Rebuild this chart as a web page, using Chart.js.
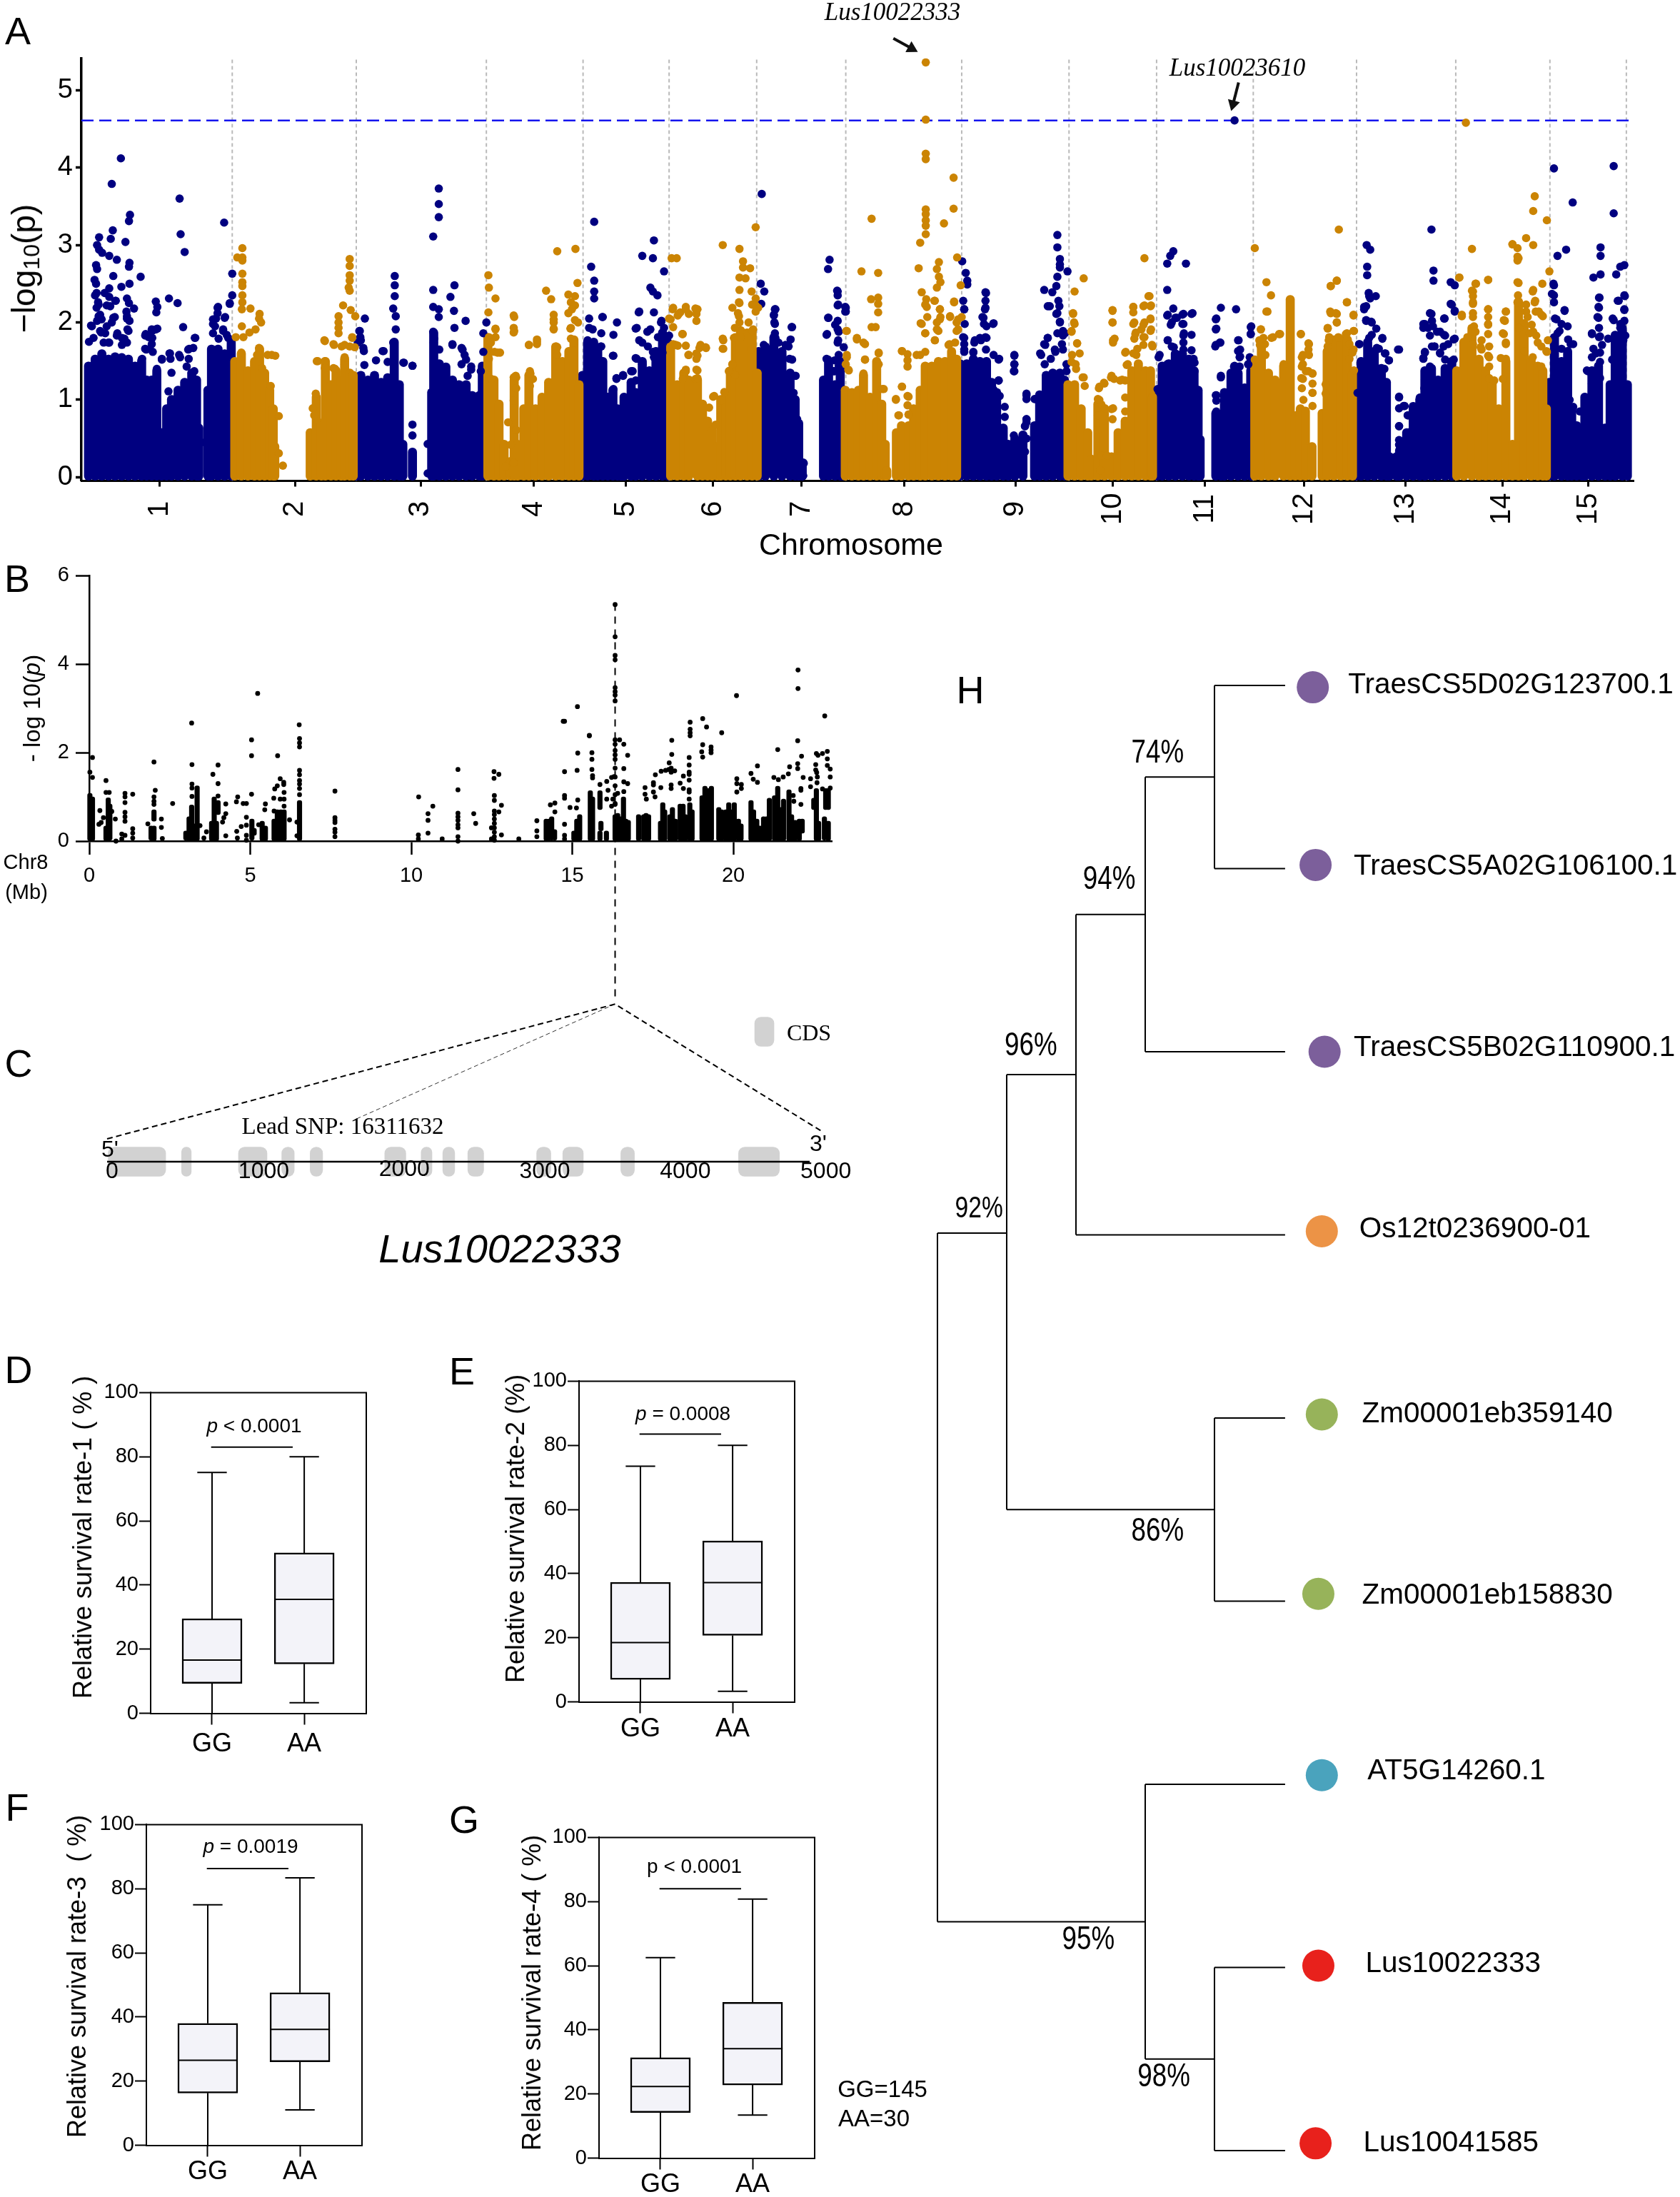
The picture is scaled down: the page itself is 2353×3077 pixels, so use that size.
<!DOCTYPE html>
<html>
<head>
<meta charset="utf-8">
<script src="https://cdn.jsdelivr.net/npm/chart.js@4/dist/chart.umd.min.js"></script>
<style>
  body { margin: 0; background: #fff; overflow: hidden; }
  #page { position: relative; width: 2353px; height: 3077px; font-family: "Liberation Sans", Arial, sans-serif; color: #000; }
  canvas { position: absolute; }
  .note { position: absolute; white-space: pre; line-height: 1; }
  .note sub { font-size: 70%; vertical-align: -0.2em; line-height: 0; }
</style>
</head>
<body>
<div id="page"></div>
<script>
// ---- panel A: genome-wide manhattan, x = cumulative Mb ----
const chromLabels = ["1","2","3","4","5","6","7","8","9","10","11","12","13","14","15"];
const chromCenters = [15.5,42.2,67,89.4,107.6,124.8,142.3,162.6,184.5,203.8,222,241.6,261.6,280.7,297.7];
const chromEnds = [29.8,54.3,80,99.1,116.1,133.4,151,173.9,195.1,212.4,231.5,251.9,271.5,290.1,305.2];
const threshold = 4.608;

// columns of merged points: [Mb, top]
const blueMass = [[1.41,1.49],[2.72,1.58],[4.04,1.65],[5.35,1.58],[6.66,1.61],[7.98,1.6],[9.29,1.58],[10.6,1.49],[11.9,1.55],[12.9,1.31],[13.9,1.31],[14.9,1.43],[15.85,.63],[16.84,.94],[17.8,1.06],[19.1,1.18],[20.4,1.28],[21.8,1.4],[22.75,1.31],[23.2,.69],
  [25,1.18],[25.7,1.71],[27,1.71],[28.3,1.65],[29.6,1.8],
  [54.3,1.31],[55.2,1.37],[56.6,1.31],[57.9,1.37],[59.2,1.28],[60.5,1.34],[61.8,1.8],[62.8,1.25],[63.5,.48],[65.4,.38],
  [69.2,1.15],[69.6,1.92],[70.7,1.52],[72,1.48],[73.3,1.31],[74.6,1.25],[76,1.25],[77.2,1.11],[78.6,1.11],[79.2,1.49],
  [99,1.37],[100,1.8],[101.2,1.8],[102,1.71],[103,1.55],[104,1.09],[105,1.18],[105.9,.94],[106.6,.32],[107.2,1.09],[108.6,1.28],[109.5,1.15],[110.8,1.55],[112.2,1.43],[113.5,1.68],[114.8,1.92],[115.8,1.8],
  [133.8,1.68],[135.1,1.74],[136.8,1.86],[138.4,1.68],[140,1.4],[141,1.06],[141.7,.75],[142.4,.23],
  [146.6,1.31],[147.6,1.55],[148.9,1.25],[149.9,1.55],[150.6,1.18],
  [173.6,1.52],[174.9,1.52],[176.2,1.58],[177.5,1.55],[178.8,1.55],[179.8,1.28],[180.8,1.15],[182.1,.69],[183.1,.48],[184.4,.55],[186,.6],
  [188.3,.72],[189.3,1.12],[190.6,1.37],[191.9,1.4],[193.3,1.4],[194.2,1.31],
  [212.5,1.15],[213.5,1.49],[214.8,1.52],[216.1,1.65],[217.5,1.65],[218.8,1.58],[219.8,1.43],[220.6,1.18],[221,.54],
  [224.1,.88],[225.1,.48],[225.8,1.15],[227.1,1.4],[228.5,1.4],[229.8,1.21],[231,1.43],
  [251.8,1.18],[252.8,1.55],[254.1,1.8],[255.4,1.68],[256.8,1.46],[257.8,1.28],[258.4,.32],[259.8,.32],[260.4,.4],[261.8,.63],[263.1,.97],[264.4,1.06],[265.4,1.43],[266.7,1.46],[268,1.31],[269.4,1.46],[270.7,1.55],
  [290,1.28],[291,1.86],[292.4,1.55],[293.6,1.68],[294.4,.94],[295.4,.72],[296.4,.69],[297,1.09],[298.4,1.43],[299.7,1.49],[301,.69],[302,1.25],[303,1.89],[304.4,1.98],[305.4,1.25]];
const orangeMass = [[30.3,1.55],[31.6,1.65],[32.9,1.43],[34.2,1.55],[35.2,1.71],[36.2,1.4],[37.2,1.18],[37.9,.94],[38.2,.45],
  [45.2,.63],[46.4,1.09],[47.4,.75],[48.2,1.55],[49.3,1.25],[50.3,1.43],[51.3,1.31],[52,1.58],[53,1.4],[53.7,1.37],
  [80.3,1.86],[81.5,1.31],[82.5,1],[83.5,.48],[84.8,.26],[85.5,1.31],[86.2,.48],[87.4,.94],[88.4,1.37],[89.7,.94],[91,1.09],[92.3,1.28],[93.7,1.74],[95,1.55],[96.3,1.68],[97.3,1.83],[98.3,1.25],
  [116.4,1.74],[117.7,1.25],[119,1.4],[120,1.31],[121.7,1.31],[122.7,1],[123.7,.78],[124.6,.66],[125.6,.45],[126.3,1.06],[127.3,1.12],[128.2,1.43],[129.2,1.86],[130.2,1.95],[131.5,1.92],[132.5,1.92],[133.5,1.4],
  [150.9,1.18],[152.2,1.15],[153.5,1.18],[154.5,1.37],[155.8,1.09],[157.1,1.55],[158.1,1],[158.8,.48],[159.1,.14],[161,.63],[162,.72],[163.4,.72],[164.4,.94],[165.7,1.18],[166.7,1.49],[168,1.49],[169.3,1.55],[170.6,1.55],[171.9,1.68],[172.9,1.58],
  [194.9,1.25],[196.2,1.25],[197.5,.94],[198.8,.63],[199.5,.29],[200.8,1],[202.1,.88],[203.5,.32],[204.8,.63],[206.2,.78],[207.5,1.43],[208.8,1.52],[210.2,1.43],[211.2,1.43],[211.6,1.09],
  [231.8,1.55],[233.1,1.8],[234.5,1.4],[235.8,1.31],[237.5,1.49],[238.8,2.35],[239.8,.85],[240.8,.94],[241.8,.91],[243.1,.45],
  [245.1,.88],[246.1,1.68],[247.4,1.83],[248.8,1.83],[250.1,1.83],[251.1,1.4],
  [271.7,1.43],[273.1,1.8],[274.7,1.98],[276.1,1.58],[277.4,1.43],[278.7,1.28],[280,.94],[281.4,1.55],[282.7,.48],[283.9,2.32],[285,2.04],[286.4,1.55],[287.7,1.49],[288.7,1.43],[289.4,.94]];

const blueDots = [[7.8,4.12],[6,3.79],[9.6,3.39],[9.4,3.31],[6.2,3.19],[3.5,3.1],[5.8,3.08],[8.7,3.04],[3.1,3],[3.5,2.94],[4.1,2.9],[5.5,2.86],[7,2.81],[9.5,2.77],[9.4,2.72],[2.9,2.74],[3.1,2.69],[6.3,2.6],[11.7,2.59],[2.6,2.55],[2.9,2.5],[9.5,2.5],[7.9,2.46],[5.5,2.44],[3,2.38],[4.6,2.38],[9,2.31],[5.5,2.33],[6.8,2.28],[9.4,2.25],[3.3,2.26],[3,2.19],[10.4,2.18],[5,2.22],[8.9,2.14],[3.7,2.1],[6.6,2.07],[9,2.05],[3.1,2.02],[6,2],[1.9,1.96],[9.5,2.02],[5,1.95],[7.1,1.86],[9.1,1.91],[3.9,1.87],[8.5,1.79],[1.5,1.75],[5.5,1.74],
  [19.4,3.6],[19.6,3.14],[20.4,2.91],[14.7,2.27],[17.3,2.31],[19,2.25],[15,2.2],[14.8,2.13],[14.7,1.91],[13.9,1.91],[20.1,1.94],[12.7,1.85],[13.3,1.81],[13.9,1.72],[12.8,1.65],[14.1,1.62],[22.5,1.8],[22.1,1.67],[21.3,1.66],[17.4,1.6],[19.3,1.58],[15.9,1.53],[17.6,1.53],[21.2,1.53],[12,1.53],
  [28.2,3.29],[29.8,2.63],[29.8,2.35],[29.3,2.25],[26.9,2.19],[26.9,2.12],[28.4,2.07],[26.6,2.05],[26,1.98],[28,1.91],[28.7,1.84],[29.5,1.77],[27.1,1.79],
  [61.9,2.6],[61.9,2.48],[61.9,2.34],[61.6,2.18],[62.1,2.08],[62.1,1.91],[56,2.05],[54.9,1.89],[55.1,1.81],[54.6,1.74],[55.7,1.67],[61.6,1.74],[59.7,1.63],[63.6,1.48],[65.4,1.44],[65.4,.68],[65.4,.54],[68.4,.43],[68.4,.05],
  [70.6,3.73],[70.6,3.53],[70.6,3.36],[69.5,3.11],[69.5,2.42],[73.7,2.48],[72.9,2.33],[69.5,2.2],[70.6,2.17],[73.6,2.15],[70.6,2.07],[75.9,2.02],[73.7,1.93],[69.5,1.88],[80,2],[79.4,1.86],[69.7,1.79],[70,1.65],[73.3,1.72],[75.1,1.67],[75.7,1.58],[75.1,1.46],[77,1.39],[78.9,1.37],[79.4,1.62],[24.4,.45],
  [101.3,3.3],[100.7,2.72],[101.3,2.54],[101.3,2.4],[101.3,2.31],[100.3,2.05],[102.9,2.07],[100.3,1.93],[101,1.91],[102.7,1.86],[105.8,2],[105.1,1.84],[100,1.77],[101,1.65],[102.7,1.69],[105,1.57],[102.3,1.48],[105.7,1.27],[107,1.32],[108.6,1.37],
  [113.1,3.06],[110.8,2.86],[112.9,2.83],[115.1,2.66],[112.4,2.45],[112.9,2.4],[113.8,2.35],[110.1,2.13],[113.1,2.13],[109.7,1.93],[114.6,2.02],[112.4,1.91],[115.1,1.93],[113.9,1.81],[110.2,1.77],[111.9,1.69],[109.7,1.53],[110.8,1.46],[112.9,1.62],
  [134.4,3.66],[134.2,2.5],[134.9,2.4],[134.3,2.24],[137,2.17],[136.8,2.1],[136.9,2],[140.3,1.94],[137,1.86],[139.7,1.69],[137.7,1.74],[139.9,1.53],[138.5,1.53],[142.6,.19],[142.6,.02],
  [147.8,2.81],[147.5,2.69],[149.4,2.4],[149.4,2.35],[149.4,2.22],[151,2.19],[151,2.14],[147.6,2.06],[149.4,2.02],[147.2,1.84],[149.4,1.91],[149.4,1.74],[147.2,1.53],[148.8,1.51],[148.8,1.37],[149.6,1.44],
  [174,2.79],[174.7,2.64],[175,2.54],[175,2.49],[174.2,2.28],[174.4,2.17],[178.6,2.39],[178.6,2.28],[178.6,2.19],[178,2.07],[178.3,1.98],[180.2,1.99],[174.2,1.81],[174.4,1.72],[174.4,1.62],[176.4,1.74],[178.6,1.81],[177.7,1.77],[176.2,1.62],[180.2,1.58],[181.3,1.53],[184.3,1.58],[184.3,1.46],[184.2,1.37],[186.7,1.08],[186.7,1.01],[188.6,1.01],[181.2,1.25],[180.2,1.13],[186.7,.71],[186.7,.75],[186.4,.66],[184.2,.54],[184.2,.42],[186.7,.5],[184.2,.28],[184.2,.02],[186.4,.33],[185.9,.09],
  [192.8,3.13],[192.8,2.97],[193.3,2.82],[193.3,2.75],[193.3,2.71],[194.8,2.66],[192.8,2.59],[192.6,2.47],[190.2,2.42],[191.8,2.39],[193,2.28],[191.3,2.21],[193.2,2.21],[192.8,2.12],[193.3,2],[192.8,1.86],[190.9,1.8],[194.3,1.86],[190.2,1.72],[193.7,1.72],[189.4,1.6],[192.4,1.62],[191.5,1.53],
  [215.7,2.92],[215.1,2.86],[214.5,2.76],[218.2,2.76],[214.5,2.42],[215.7,2.18],[214.6,2.1],[219.5,2.12],[217.5,2.1],[216.4,2.06],[215.4,2],[217.5,1.98],[217.8,1.86],[214.6,1.77],[217.7,1.74],[213,1.58],[215.4,1.69],[219.7,1.53],[219.7,1.37],
  [225.1,2.19],[228.1,2.17],[224.2,2.05],[224.2,1.92],[224.9,1.74],[224,1.69],[228.6,1.77],[231,1.94],[231,1.85],[228.9,1.65],[228.9,1.56],[230.5,1.46],[227.8,1.44],[225.1,1.29],[224.2,1.06],[224.2,.99],[224.2,.85],[224.2,.66],[227.8,4.61],
  [253.9,3],[254.6,2.94],[254,2.72],[254,2.61],[254.3,2.38],[255.7,2.34],[254.6,2.31],[253.8,2.21],[253.4,2.17],[253.8,2.02],[254.9,2],[254.9,1.84],[257,1.8],[252.5,1.72],[255.9,1.67],[260.3,1.65],[257.5,1.6],[258.3,1.51],[260.3,1.04],[260.3,.89],[261.4,.92],[262.1,.8],[262.1,.56],[262.1,.47],[260.3,.66],[260.3,.42],
  [266.7,3.2],[267.1,2.67],[267.1,2.54],[270.5,2.52],[271.3,2.48],[270.5,2.24],[271.3,2.14],[266.4,2.12],[269.2,2.05],[265.1,1.98],[266.8,2.02],[266,1.93],[265.1,1.93],[267.8,1.88],[269.2,1.84],[266.8,1.69],[270,1.72],[271.3,1.79],[267.3,1.69],[265.4,1.62],[268.4,1.6],[265.1,1.53],
  [290.9,3.99],[302.7,4.02],[294.6,3.55],[302.7,3.41],[293.3,2.94],[300.1,2.97],[291.6,2.86],[300.1,2.86],[304.8,2.74],[304,2.72],[300.1,2.62],[303.2,2.62],[298.7,2.58],[290.8,2.5],[290.9,2.35],[304.8,2.35],[303.5,2.28],[299.8,2.32],[299.8,2.19],[304.8,2.17],[293,2.16],[299.5,2.07],[302.5,2.05],[304.8,2.02],[291.1,2.05],[292.4,1.98],[291.6,1.86],[299.8,1.93],[298.4,1.86],[299.8,1.81],[304,1.93],[294.2,1.72],[301.6,1.79],[304.6,1.77],[299.2,1.6],[297.6,1.37],[296,.85]];
// dense band just above the solid mass
const blueFringe = [[2.07,1.95],[2.4,1.8],[3.4,2.08],[4,2.04],[3.7,1.89],[4.7,1.86],[5.35,1.74],[4.4,1.74],[6.3,2.06],[7,1.83],[8,1.8],[9,2.08],[9.3,1.89],[9,1.74],[8,1.71],[2.7,2.35],[3.4,2.23],[5.7,2.21],[6.7,2.28],[12.6,1.83],[14,1.8],[13.5,1.66],[12.6,1.66],[15,1.92],[14,1.89],[11.9,1.52],[14.9,1.4],[15.9,1.52],[17.5,1.6],[17.8,1.35],[19.5,1.55],[21.1,1.65],[22.4,1.8],[20.8,1.43],[22.3,1.37],[17.2,1.11],[26,2.04],[26.4,1.95],[26,1.86],[27,2.2],[28.3,2.06],[28,1.89],[29,1.8],[29.6,1.68],[29.3,2.24],
  [55,1.89],[55.2,1.77],[55.8,1.63],[55.9,1.45],[58.2,1.51],[59.5,1.63],[60.5,1.49],[61.8,1.68],[63.7,1.48],[65.4,1.44],[69.6,1.74],[70.7,1.65],[73.3,1.71],[75.3,1.65],[76,1.52],[77,1.43],[76.3,1.31],
  [110.2,2.14],[111.8,1.88],[109.5,1.92],[110.8,1.74],[109.5,1.54],[110.8,1.46],[108.9,1.37],[109.5,1.25],[113.1,1.55],[114.5,2],[116.1,1.83],[114.8,1.61],[103,2.07],[102.6,1.69],[105.1,1.57],[105.7,1.28],[107,1.31],[105.1,1.14],[102.3,1.49],[102.6,1.37],
  [137.1,2.17],[136.8,2.09],[137,1.98],[140.4,1.94],[140.1,1.78],[137.1,1.8],[134.8,1.71],[139.1,1.71],[140.4,1.52],[141.1,1.31],[140.7,1.09],[141.4,.75],[141.4,.58],[142.7,.18],[149.3,2.41],[149.5,2.23],[150.9,2.2],[150.9,2.14],[147.5,2.06],[148.9,1.97],[149.6,1.88],[147.3,1.85],[149.5,1.77],[150.6,1.68],[149.6,1.58],[147.5,1.52],[148.6,1.37],[149.9,1.28],
  [174.4,2.17],[174.5,1.98],[174.4,1.8],[174.4,1.65],[178.7,2.38],[178.5,2.17],[178.2,2.06],[180.1,1.98],[178.8,1.95],[177.5,1.8],[178.8,1.8],[176.5,1.77],[178.7,1.65],[176.2,1.61],[181.2,1.52],[181.2,1.25],[181.4,1.05],[182.4,.91],[182.4,.78],[184.3,1.57],[184.3,1.46],[184.3,1.37],[186.7,1.06],[186.7,.75],[186.4,.66],[190.9,2.21],[192.6,2.11],[193.3,2.01],[193.9,1.89],[193.9,1.83],[190.9,1.8],[190.4,1.71],[192.3,1.65],[189.6,1.58],[193.9,1.65],[190.3,1.46],[194.6,1.46],[194.6,1.37],[188.3,1.01],
  [214.5,2.09],[216.1,2.06],[217.7,2.11],[219.3,2.11],[217.7,1.98],[215.2,1.97],[217.7,1.83],[219.3,1.84],[214.6,1.77],[215.8,1.68],[217.7,1.65],[219.3,1.64],[212.8,1.55],[214.5,1.46],[219.9,1.48],[219.9,1.37],[212.6,1.14],[220.6,1.08],[224.1,2.04],[224.1,1.91],[224.1,1.71],[225,1.74],[225.1,1.31],[224.1,1.06],[224.1,.81],[228.5,1.77],[228.5,1.63],[228.8,1.55],[231.1,1.95],[231,1.85],[230.8,1.55],[230.5,1.46],[227.7,1.43],[228.8,1.43],
  [254.4,2.34],[253.4,2.2],[253.8,2.03],[254.8,2.01],[255.8,1.92],[254.4,1.8],[257,1.79],[252.4,1.72],[256.3,1.66],[257.6,1.6],[258.3,1.51],[257.4,1.4],[253.1,1.31],[252.1,1.09],[260.1,1.65],[260.3,1.03],[261.2,.92],[262,.8],[260.3,.66],[262.1,.58],[260.3,.48],[266.7,2.11],[265.4,1.98],[267,1.95],[266.4,1.83],[268.4,1.88],[269.4,1.83],[269.3,2.05],[270.7,2.23],[271.3,2.15],[271.1,1.78],[267.3,1.69],[269.1,1.69],[265.4,1.61],[268.4,1.61],[265.1,1.54],[269.4,1.52],[271.1,1.52],[266.4,1.43],[265.4,1.26],[265.3,1.15],[264.4,1.03],
  [290.9,2.48],[290.5,2.37],[290.9,2.26],[293,2.15],[291.4,2.04],[293.6,1.95],[292,1.89],[293.7,1.78],[294.7,1.72],[292.4,1.66],[293.6,1.58],[294,1],[294.7,.91],[299.9,2.32],[299.7,2.2],[299.7,2.06],[298.4,1.85],[300,1.82],[300.4,1.71],[298.7,1.66],[298.4,1.55],[300,1.61],[300,1.49],[297.4,1.38],[298.4,1.31],[298.4,1.21],[300,1.28],[304.9,2.34],[303.7,2.28],[304.8,2.16],[302.7,2.03],[304,1.98],[305,1.83],[302.4,1.52],[303,1.31]];

const orangeDots = [[31.8,2.96],[30.8,2.84],[31.8,2.84],[31.8,2.8],[31.8,2.63],[31.8,2.52],[31.8,2.47],[31.8,2.35],[31.8,2.26],[31.7,2.17],[33.4,2.18],[35.2,2.11],[35.1,2.05],[35.5,2],[34.4,1.91],[33.2,1.87],[31.7,1.95],[32,1.81],[30.5,1.81],[35.1,1.67],[34.7,1.58],[37.6,1.58],[36.8,1.58],[35.7,1.41],[37.4,1.18],[39,.79],[39,.31],[39.8,.15],
  [53,2.82],[53,2.73],[53,2.61],[53,2.54],[52.8,2.45],[53,2.41],[51.7,2.22],[53.2,2.16],[54.1,2.08],[50.8,2.08],[50.8,2],[50.8,1.93],[50.8,1.86],[53.5,1.81],[48.1,1.76],[49.8,1.72],[51.4,1.69],[53,1.69],[46.5,1.5],[48.1,1.5],[48.1,1.41],[49.8,1.41],[52,1.46],[46.3,1.08],[45.7,.89],[46.5,.75],[46,.8],
  [80.4,2.61],[80.5,2.45],[81.8,2.31],[80.4,2.13],[85.4,2.09],[85.4,1.93],[85.4,1.87],[81.8,1.92],[81.8,1.81],[80.5,1.81],[80.3,1.72],[81.6,1.62],[82.7,1.61],[80.5,1.53],[88.4,1.71],[90,1.78],[90,1.72],[94,2.92],[97.6,2.95],[98,2.51],[91.8,2.41],[96.2,2.36],[97.5,2.34],[92.8,2.3],[96.7,2.26],[97.5,2.22],[96.9,2.17],[93.3,2.1],[96.2,2.12],[93.3,2],[93.3,1.91],[97.5,2.03],[98.1,2],[96.7,1.93],[96.7,1.79],[93.8,1.69],[97.3,1.72],[94,1.58],[85.4,1.29],[85.9,1.29],[88.6,1.37],[89.2,1.27],[85.9,1.15],[85.4,.99],[88.6,1.18],[81,1.27],[84.3,.71],[85.9,.61],[84.8,.42],[83.8,.14],[85.4,.19],
  [116.6,2.83],[117.6,2.83],[116.9,2.19],[119.4,2.2],[121.3,2.18],[118.3,2.13],[120,2.11],[121.5,2.11],[116.1,2.05],[117.8,2.09],[121.5,2.02],[116.9,1.94],[118.8,1.85],[116.9,1.72],[117.8,1.7],[119.4,1.7],[122.1,1.67],[123.4,1.67],[119.9,1.58],[121.5,1.6],[121.5,1.53],[121.5,1.39],[119.4,1.39],[118.8,1.27],[121.3,1.27],[124.8,1.04],[124,.9],[125.3,.68],
  [126.7,3],[130,2.95],[133.2,3.23],[130.7,2.79],[130.7,2.71],[132.1,2.7],[130,2.58],[131.2,2.57],[130,2.42],[132.4,2.4],[133.2,2.31],[130,2.25],[128.6,2.19],[133.2,2.22],[129.7,2.12],[133.7,2.19],[130,2],[131.8,2],[132.7,1.91],[129.1,1.93],[130.2,1.81],[126.7,1.79],[126.7,1.66],[132.3,1.65],[128.6,1.46],[128,1.37],[129.1,1.32],[127,1.1],[126.4,.99],
  [166.8,5.36],[166.8,4.62],[166.8,4.18],[166.8,4.11],[172.3,3.87],[172.3,3.47],[166.8,3.46],[166.8,3.4],[166.8,3.32],[166.8,3.25],[170.4,3.28],[156.1,3.34],[166.8,3.14],[165.7,3.03],[165.4,2.7],[154.1,2.66],[157.4,2.64],[173,2.84],[169.4,2.78],[169,2.69],[169.4,2.59],[169.7,2.52],[169,2.45],[173.7,2.48],[166,2.39],[172.4,2.27],[168.5,2.28],[166.9,2.3],[156,2.3],[157.4,2.32],[157.4,2.24],[157.4,2.13],[167,2.2],[169.6,2.17],[169.7,2.07],[171.6,2.07],[167.1,2.07],[165.8,1.99],[169,2],[173.9,2.07],[172.9,2],[173.2,1.91],[156.1,1.94],[156.9,1.94],[151.1,1.89],[153.2,1.78],[154.5,1.74],[166.7,1.86],[169,1.91],[151.2,1.58],[157.5,1.61],[162.1,1.63],[163.2,1.59],[163.2,1.51],[154.8,1.52],[151,1.46],[151.5,1.39],[157.5,1.46],[162.1,1.17],[160.9,1.01],[163.4,1.04],[163.2,.93],[161.5,.8],[163.4,.81],[158.2,1.14],[165,1.58],[166.7,1.62],[168.6,1.77],[171.5,1.72],
  [198,2.57],[196.2,2.4],[195.9,2.12],[196.1,2],[195.6,1.88],[196.7,1.73],[195.7,1.58],[196.4,1.46],[197.8,1.29],[202,1.22],[201,1.15],[200.8,1.01],[201.5,.94],[204,1.27],[205.6,1.26],[202.2,.89],[203.5,.88],[200.8,.61],[200.8,.8],[201.5,.28],[202.6,.28],[201.3,.09],
  [203.7,2.16],[203.7,2],[204.1,1.79],[203.8,1.74],[210,2.83],[211,2.34],[207.8,2.2],[210,2.22],[211.3,2.22],[207.8,2.13],[208,2],[210,2],[211.2,2.05],[208.3,1.87],[209.4,1.91],[211.3,1.91],[208,1.79],[210,1.81],[211.6,1.69],[208.6,1.66],[206.3,1.62],[208.4,1.58],[206.7,1.46],[206.2,1.25],
  [231.8,2.96],[234.1,2.52],[235,2.35],[234.3,2.14],[233,1.91],[235.4,1.81],[236.8,1.85],[232.7,1.77],[233.8,1.72],[240.9,1.85],[242.4,1.73],[242.4,1.65],[241.3,1.58],[241.3,1.46],[242.4,1.37],[241.3,1.27],[243.2,1.34],[243.2,1.09],
  [248.4,3.2],[248,2.54],[246.8,2.47],[250,2.26],[246.7,2.14],[247.8,2.12],[251.3,2.1],[248,2],[246.2,1.93],[251.3,1.89],[250,1.86],[246.5,1.81],[248.3,1.81],[250.5,1.72],[246.2,1.69],[251.3,1.65],[250.5,1.53],
  [273.5,4.58],[274.7,2.95],[272.2,2.58],[277.9,2.55],[275.4,2.5],[274.9,2.4],[274.9,2.26],[277.9,2.17],[277.9,2.07],[277.9,1.98],[272.7,2.1],[274.9,2.12],[275.1,1.95],[275.4,1.88],[281.4,2.14],[281.2,2.02],[280.8,1.86],[281.4,1.74],[273.8,1.81],[276.6,1.77],[274.9,1.72],[276.6,1.65],[278.1,1.55],[281.4,1.53],[280.8,1.27],
  [287.1,3.63],[286.8,3.44],[289.5,3.32],[285.4,3.09],[282.7,3.01],[283.7,2.96],[286.8,3],[283.7,2.85],[283.7,2.8],[290,2.66],[283.7,2.52],[288.6,2.5],[286.8,2.42],[283.8,2.35],[287.1,2.26],[283.7,2.26],[287.3,2.14],[288.4,2.1],[285.7,2.07],[286.8,1.88],[284,1.93],[289.5,1.62],[288.4,1.69]];
const orangeFringe = [[31.6,1.61],[35.2,1.66],[35.2,1.58],[38.3,1.57],[48,1.77],[46.7,1.5],[49.9,1.71],[52,1.71],[52,1.55],[53.5,1.8],[54,1.68],[50.1,1.4],
  [81.8,1.91],[80.9,1.74],[82.2,1.61],[85.5,1.89],[85.5,2.07],[88.4,1.71],[90,1.75],[88.7,1.34],[85.8,1.31],[93.3,2.04],[93.3,1.92],[96.6,1.92],[97.3,1.74],[94,1.68],
  [116.8,2.17],[119.4,2.17],[121.7,2.17],[118,2.11],[116.4,2.04],[118.7,1.85],[117.4,1.71],[122.3,1.71],[123.3,1.68],[120,1.58],[121.7,1.57],[121.7,1.38],[125,1.05],[126.8,1.77],[126.8,1.66],[121.7,1.28],[119.4,1.37],[128.9,1.8],[129.9,2.26],[132.5,2.23],[133.2,2.14],[129.9,2.08],[132.5,1.89],[127.9,1.37],[128.6,1.46],
  [151.2,1.89],[153.2,1.8],[154.8,1.72],[157.5,1.6],[154.8,1.52],[151.2,1.55],[151.6,1.38],[154.5,1.34],[157.1,1.43],[158.5,1.14],[162.1,1.63],[163.2,1.43],[162.1,1.17],[160.9,1],[163.2,1.05],[161.4,.8],[163.4,.81],[166.7,2.23],[168.6,2.28],[169.6,2.17],[169.6,2.04],[166,1.98],[166.7,1.86],[169.3,1.89],[172.4,2.26],[171.6,2.08],[173.2,2.04],[172.9,1.89],[168.6,1.77],[165.7,1.58],[171.3,1.71],[172.6,1.74],
  [195.9,2.11],[196.2,1.98],[195.6,1.89],[196.7,1.73],[197.2,1.6],[195.6,1.49],[196.5,1.4],[198,1.29],[198.2,1.18],[201.1,1.17],[202.1,1.21],[203.4,1.29],[201.1,1],[203.7,2.15],[203.7,2],[203.8,1.77],[207.8,2.2],[207.8,1.98],[209.8,2.21],[211.2,2.21],[210.8,2.34],[211.2,2.04],[211.2,1.89],[209.8,1.97],[208.2,1.85],[209.8,1.81],[206.2,1.61],[207.8,1.6],[209.8,1.71],[211.5,1.71],[206.5,1.45],[203.5,1.31],[205.2,1.25],[206.2,1.03],[206.2,.85],[203.8,.89],[203.7,.75],
  [234.1,2.14],[233,1.91],[235.1,1.8],[236.6,1.85],[233.5,1.8],[232.8,1.71],[233.9,1.58],[231.8,1.52],[237.5,1.46],[240.9,1.85],[242.5,1.72],[242.5,1.58],[241.1,1.55],[241.1,1.43],[241.9,1.37],[243.2,1.34],[241,1.28],[243.2,1.21],[241.1,1.15],[243.2,1.09],[241.4,1],[243.2,.92],
  [246.8,2.47],[248,2.54],[250,2.26],[251.3,2.09],[246.8,2.12],[248,2.11],[248,2],[246.2,1.92],[251.4,1.89],[249.8,1.85],[248.4,1.8],[246.4,1.77],[251.1,1.61],[251.4,1.38],[245.8,1.2],[245.8,1.08],
  [272.2,2.58],[275.5,2.5],[277.9,2.55],[274.7,2.41],[274.9,2.34],[274.9,2.24],[272.7,2.08],[274.9,2.07],[277.9,2.17],[277.9,1.97],[281.4,2.14],[281,2.03],[281,1.85],[281.4,1.72],[277.9,1.85],[278.1,1.69],[276.4,1.68],[277.9,1.57],[278.1,1.43],[280.4,1.54],[278.1,1.28],[279.1,1.25],
  [282.7,3.01],[283.9,2.83],[283.9,2.51],[286.7,2.4],[287.2,2.28],[285.4,2.23],[287.9,2.14],[288.7,2.08],[285.4,2.14],[286.5,1.97],[286.1,1.86],[287.4,1.83],[287.7,1.74],[289.7,1.77],[289.4,1.63],[285.1,1.63],[286.7,1.55],[288.4,1.43]];

// ---- panel B: chromosome 8, x = Mb ----
const chr8Ticks = [0,5,10,15,20];
const chr8Peak = 16.33;
// dense columns of merged points: [Mb, low, high]
const chr8Runs = [[.02,0,1.08],[.1,0,1],[.52,0,.34],[.59,0,.98],[.64,.02,.84],[1.92,.02,.34],[2.01,0,.34],[2.01,.45,.71],[3,.02,.23],[3.1,0,.55],[3.18,0,.82],[3.27,0,.39],[3.35,0,1.25],[3.8,0,.45],[3.88,0,1],[3.95,0,.45],[4,.6,.92],[5.05,.02,.5],[5.12,.13,.29],[5.37,0,.45],[5.47,0,.34],[5.74,0,.5],[5.84,0,.71],[5.95,0,.71],[6.05,0,.71],[6.53,0,.92],
  [14.19,0,.5],[14.28,.02,.5],[14.36,.02,.55],[14.45,.02,.26],[15.05,0,.23],[15.14,0,.5],[15.23,0,.6],[15.56,0,1.14],[15.63,0,1],[15.86,.71,1.14],[15.86,0,.23],[15.89,.23,.45],[16.06,0,.23],[16.33,0,.6],[16.41,0,.63],[16.5,0,.55],[16.59,0,1],[16.66,0,.5],[16.74,0,.47],
  [17.06,0,.6],[17.22,0,.6],[17.29,0,.63],[17.37,0,.6],[17.74,0,.45],[17.81,0,.87],[17.87,0,.71],[18.03,0,.6],[18.11,0,.76],[18.2,0,.5],[18.35,0,.84],[18.44,0,.84],[18.51,0,.6],[18.65,0,.87],[18.72,0,.71],[19.03,0,1.03],[19.12,0,1.24],[19.22,0,1.19],[19.32,0,1.24],[19.55,0,.76],[19.64,0,.71],[19.77,0,.71],[19.86,0,.87],[19.96,0,.71],[20.03,0,.87],[20.16,0,.5],[20.24,0,.39],[20.55,0,.92],[20.63,0,.71],[20.73,0,.5],[20.82,0,.34],[20.94,0,.55],[21.03,0,.55],[21.12,0,.97],[21.28,0,1.03],[21.38,0,1.24],[21.47,0,.76],[21.56,0,.95],[21.73,0,1.16],[21.81,0,.6],[21.92,0,.47],[22.05,0,.5],[22.14,.18,.5],[22.5,.71,.97],[22.58,0,1.19],[22.65,0,.45],[22.83,.02,.55],[22.87,.71,1.19],[22.95,.71,1.19],[22.95,0,.45]];
const chr8Dots = [[16.33,5.35],[16.33,4.62],[16.33,4.2],[16.33,4.1],[16.33,3.47],[16.33,3.38],[16.33,3.3],[16.33,3.17],[16.33,2.29],[16.33,2.19],[16.33,2.05],[16.33,1.95],[16.33,1.85],[16.33,1.65],[16.33,1.45],[16.33,1.25],[16.33,1.05],[16.33,.85],
  [16.47,2.29],[16.6,2.19],[16.72,1.94],[16.6,1.64],[16.6,1.34],[16.72,1.3],[16.6,1.12],
  [5.23,3.34],[15.16,3.04],[14.72,2.71],[3.18,2.67],[6.52,2.63],[15.53,2.39],[22.84,2.83],[22.01,3.87],[22.01,3.45],[20.1,3.29],
  [18.66,2.69],[18.66,2.53],[18.66,2.45],[18.66,2.38],[19.05,2.77],[19.17,2.58],[19.64,2.45],[19.31,2.13],[19.31,2.06],[19.31,2],[19.05,2.18],[19.02,2.02],[19.05,1.9],[22,2.27],[21.38,2.07],[22.12,1.92],[22,1.75],[22,1.64],[22.58,1.98],[22.63,1.94],[22.77,1.98],[22.92,2.03],[22.92,1.86],[22.92,1.71],[23.01,1.63],[23.01,1.45],[22.56,1.73],[22.56,1.61],[22.59,1.55],[22.61,1.45],[22.6,1.32],[22.4,1.41],[22.17,1.44],[21.75,1.68],[21.71,1.52],[21.55,1.45],[21.4,1.39],[21.26,1.44],[20.75,1.7],[20.55,1.53],[20.62,1.4],[20.75,1.33],[20.11,1.41],[20.11,1.3],[20.25,1.28],[20.25,1.19],[20.11,1.11],
  [18.09,2.28],[18.09,1.96],[18.01,1.77],[18.07,1.65],[18.07,1.56],[18.18,1.59],[18,1.62],[17.9,1.6],[17.76,1.58],[17.58,1.5],[17.52,1.32],[17.52,1.27],[17.26,1.21],[17.26,1.06],[17.3,.95],[17.75,1.21],[17.52,1.11],[17.57,1],[18.07,1.27],[18.07,1.19],[18.35,1.31],[18.45,1.47],[18.45,1.19],[18.63,1.89],[18.63,1.72],[18.63,1.56],[18.63,1.51],[18.63,1.38],[18.63,1.16],[18.63,1.11],[18.63,.95],[22.77,1.18],[23.01,1.2],[22.4,1.23],[22.1,1.19],[22.1,1.15],[21.86,1.03],[21.88,.9],[22.1,.83],
  [14.76,2.71],[15.53,2.38],[15.17,1.99],[15.61,2],[15.61,1.85],[15.61,1.62],[15.63,1.48],[15.63,1.43],[15.15,1.6],[14.76,1.57],[15.86,1.28],[16.07,1.35],[16.22,1.44],[16.3,1.46],[16.11,1.15],[16.07,.95],[16.26,.95],[16.22,.79],[16.33,.83],[16.41,1.08],[14.76,1.03],[14.76,.97],[14.93,.76],[15.17,.93],[15.13,.75],[14.46,.86],[14.32,.82],[14.46,.66],[14.76,.38],[14.76,.13],[14.76,.05],[13.9,.46],[13.9,.23],[13.9,.1],[13.34,.05],[12.8,.14],[12.57,1.57],[12.57,1.42],[12.72,1.51],[12.58,1.03],[12.58,.92],[12.8,.81],[12.72,.66],[12.58,.68],[12.58,.6],[12.58,.5],[12.58,.4],[12.58,.3],[12.58,.2],[12.58,.1],[12.58,.02],[12.49,.3],[12.49,.05],[11.45,1.62],[11.45,1.16],[11.45,.63],[11.45,.55],[11.45,.47],[11.45,.37],[11.45,.3],[11.45,.1],[11.45,0],[11.94,.62],[12,.4],[10.96,.05],[10.67,.79],[10.52,.62],[10.52,.47],[10.52,.18],
  [10.23,1],[10.22,.14],[10.22,.05],[7.63,1.13],[7.63,.53],[7.63,.47],[7.63,.42],[7.63,.27],[7.63,.2],[7.63,.1],
  [5.04,2.29],[5.04,1.93],[5.85,1.93],[6.53,2.32],[6.53,2.22],[6.53,2.13],[6.53,1.6],[6.53,1.5],[6.53,1.37],[6.53,1.29],[6.53,1.19],[6.53,1.05],
  [.1,1.89],[.02,1.56],[.1,1.44],[.52,1.37],[2.01,1.79],[2.05,1.15],[2.01,1],[2.01,.9],[2.01,.83],[2.59,.85],[.52,1.1],[.62,1.1],[1.11,1.08],[1.11,1],[1.11,.87],[1.35,1.06],[1.11,.65],[1.11,.55],[1.11,.45],[1.35,.28],[1.35,.18],[1.35,.07],[1.11,.13],[1.01,.16],[1.01,.05],[.83,0],[.81,.5],[.44,.53],[.33,.69],[.3,.38],[.37,.42],[.7,.67],[1.82,.39],[2.24,.5],[2.24,.31],[2.27,.06],
  [3.19,1.73],[3.19,1.29],[3.19,1.2],[3.19,1.01],[3.44,.35],[3.64,.21],[3.56,.07],[3.84,1.51],[4,1.72],[4,1.3],[4,1.02],[4.24,.84],[4.24,.62],[4.18,.53],[4.14,.43],[4.24,.12],
  [4.61,1],[4.57,.89],[4.78,.85],[4.88,.85],[4.88,.54],[4.88,.36],[4.88,.13],[4.88,.02],[5.04,1.06],[4.72,.33],[4.58,.22],[4.6,.07],[5.47,.84],[5.45,.71],[5.26,.37],[5.73,.97],[5.74,.68],[5.84,1.25],[5.76,1.18],[5.93,1.41],[6.04,1.33],[6.04,1.28],[6.05,1.1],[5.93,.95],[6.05,.95],[6.05,.79],[6.22,.48],[6.45,.43],[6.45,.12]];

// ---- panel C: gene model, x = bp ----
const geneTicks = [0,1000,2000,3000,4000,5000];
const exonStarts = [8,530,935,1243,1445,1976,2235,2389,2567,3057,3243,3656,4494];
const exonEnds = [417,599,1138,1332,1534,2126,2312,2474,2680,3158,3389,3753,4785];

// ---- panels D-G: survival boxplots ----
const genotypes = ["GG","AA"];
const boxD = {gg:[0,9.3,16.6,29.5,75.1], aa:[3.3,15.4,35.5,50,80]};
const boxE = {gg:[0,7,18.5,37.3,73.5], aa:[3.3,20.7,37.2,50.2,80]};
const boxF = {gg:[0,16.3,26.5,38,75], aa:[11,26,36.1,47.6,83.4]};
const boxG = {gg:[0,14.2,22.3,31.3,62.5], aa:[13.4,22.8,34.1,48.6,80.8]};

// ---- panel H: tree, x = node depth, y = tip rank ----
const tipNames = ["TraesCS5D02G123700.1","TraesCS5A02G106100.1","TraesCS5B02G110900.1","Os12t0236900-01","Zm00001eb359140","Zm00001eb158830","AT5G14260.1","Lus10022333","Lus10041585"];
const tipColors = ["#7c5f9b","#7c5f9b","#7c5f9b","#ec9346","#97b35a","#97b35a","#4aa3bd","#e8211c","#e8211c"];
const tipDotX = [5.42,5.46,5.59,5.55,5.55,5.5,5.55,5.5,5.46];
const tipDotY = [.01,.98,2,2.98,3.98,4.96,5.95,6.99,7.96];
const tipLabelX = [5.93,6.01,6.01,6.09,6.13,6.13,6.21,6.18,6.15];
const tipLabelY = [0,.99,1.98,2.97,3.98,4.97,5.93,6.98,7.96];
const treeBranches = [[0,2.99,0,6.75],[0,2.99,1,2.99],[0,6.75,3,6.75],[1,2.125,1,4.5],[1,2.125,2,2.125],[1,4.5,4,4.5],[2,1.25,2,3],[2,1.25,3,1.25],[2,3,5.02,3],[3,.5,3,2],[3,.5,4,.5],[3,2,5.02,2],[4,0,4,1],[4,0,5.02,0],[4,1,5.02,1],[4,4,4,5],[4,4,5.02,4],[4,5,5.02,5],[3,6,3,7.5],[3,6,5.02,6],[3,7.5,4,7.5],[4,7,4,8],[4,7,5.02,7],[4,8,5.02,8]];
const supportText = ["74%","94%","96%","92%","86%","95%","98%"];
const supportX = [3.18,2.48,1.35,.6,3.18,2.18,3.27];
const supportY = [.37,1.06,1.97,2.86,4.62,6.85,7.6];

const page = document.getElementById("page");
const BLUE = "#000080", ORANGE = "#cb8403", GREY_EXON = "#d2d2d2";
const SANS = '"Liberation Sans", Arial, sans-serif';

Chart.defaults.font.family = SANS;
Chart.defaults.color = "#000";

function note(html, x, y, size, extra) {
  const d = document.createElement("div");
  d.className = "note";
  d.innerHTML = html;
  d.style.left = x + "px";
  d.style.top = y + "px";
  d.style.fontSize = size + "px";
  d.style.transform = "translate(-50%,-50%)" + (extra && extra.rotate ? " rotate(-90deg)" : "");
  if (extra && extra.font) d.style.fontFamily = extra.font;
  if (extra && extra.italic) d.style.fontStyle = "italic";
  page.appendChild(d);
}

function addCanvas(left, top, width, height) {
  const c = document.createElement("canvas");
  c.width = width;
  c.height = height;
  c.style.left = left + "px";
  c.style.top = top + "px";
  page.appendChild(c);
  return c.getContext("2d");
}

// text tied to data coordinates
function pinnedText(items) {
  return {
    id: "pinnedText",
    afterDraw(chart) {
      const ctx = chart.ctx;
      items.forEach(it => {
        ctx.save();
        ctx.translate(chart.scales.x.getPixelForValue(it.x), chart.scales.y.getPixelForValue(it.y));
        if (it.rotate) ctx.rotate(-Math.PI / 2);
        if (it.squeeze) ctx.scale(it.squeeze, 1);
        ctx.font = it.font;
        ctx.fillStyle = "#000";
        ctx.textAlign = it.align || "center";
        ctx.textBaseline = "middle";
        ctx.fillText(it.text, 0, 0);
        ctx.restore();
      });
    }
  };
}

const frameBox = {
  id: "frameBox",
  afterDraw(chart) {
    const a = chart.chartArea, ctx = chart.ctx;
    ctx.save();
    ctx.strokeStyle = "#000";
    ctx.lineWidth = 2;
    ctx.beginPath();
    ctx.moveTo(a.left, a.top);
    ctx.lineTo(a.right, a.top);
    ctx.lineTo(a.right, a.bottom);
    ctx.stroke();
    ctx.restore();
  }
};

const xy = pairs => pairs.map(p => ({x: p[0], y: p[1]}));
const fixedTicks = values => scale => { scale.ticks = values.map(v => ({value: v})); };
const axisLines = (len, w) => ({
  offset: false,
  grid: {offset: false, drawOnChartArea: false, drawTicks: true, tickLength: len, tickWidth: w, tickColor: "#000"},
  border: {display: true, color: "#000", width: w}
});
const baseOptions = {
  responsive: false,
  animation: false,
  events: [],
  plugins: {legend: {display: false}, tooltip: {enabled: false}}
};
const massColumns = (pairs, color, order) => ({type: "bar", order, grouped: false, barThickness: 12, borderRadius: 6, borderSkipped: false, backgroundColor: color,
  data: pairs.map(p => ({x: p[0], y: [-.04, p[1]]}))});

// panel A
new Chart(addCanvas(0, 0, 2300, 800), {
  type: "scatter",
  data: {datasets: [
    {showLine: true, order: 6, pointRadius: 0, borderColor: "#b9b9b9", borderWidth: 2, borderDash: [5, 4],
      data: chromEnds.flatMap(e => [{x: e, y: -.047}, {x: e, y: 5.413}, {x: e, y: null}])},
    massColumns(blueMass, BLUE, 5),
    massColumns(orangeMass, ORANGE, 4),
    {showLine: true, order: 3, pointRadius: 0, borderColor: "#1414ee", borderWidth: 2.5, borderDash: [17, 8], data: [{x: 0, y: threshold}, {x: 306.63, y: threshold}]},
    {order: 2, data: xy(blueDots.concat(blueFringe)), pointRadius: 5.8, backgroundColor: BLUE, borderWidth: 0},
    {order: 1, data: xy(orangeDots.concat(orangeFringe)), pointRadius: 5.8, backgroundColor: ORANGE, borderWidth: 0}
  ]},
  options: {...baseOptions,
    layout: {autoPadding: false, padding: {top: 81.6, right: 12, left: 0, bottom: 0}},
    scales: {
      x: {type: "linear", min: 0, max: 306.63, ...axisLines(8, 3), ticks: {display: false},
        afterBuildTicks: fixedTicks(chromCenters), afterFit: s => { s.height = 126.5; }},
      y: {type: "linear", min: -.047, max: 5.413, ...axisLines(8, 3.5), ticks: {font: {size: 38}, padding: 4, callback: v => String(v)},
        afterBuildTicks: fixedTicks([0,1,2,3,4,5]), afterFit: s => { s.width = 114; }}
    }
  },
  plugins: [pinnedText(chromLabels.map((t, i) => ({x: chromCenters[i], y: -.41, text: t, font: "40px " + SANS, rotate: true})))]
});

// the two arrows sit above panel A's plot area, so they get their own layer with the same scale
const arrowLine = (pts, rot) => ({showLine: true, borderColor: "#111", borderWidth: 4, pointStyle: "triangle", pointRadius: [0, 10], pointRotation: [0, rot], backgroundColor: "#111", pointBorderWidth: 0, data: pts});
new Chart(addCanvas(0, 0, 2300, 200), {
  type: "scatter",
  data: {datasets: [
    arrowLine([{x: 160.4, y: 5.67}, {x: 164, y: 5.54}], 119),
    arrowLine([{x: 228.6, y: 5.1}, {x: 227.5, y: 4.82}], 195)
  ]},
  options: {...baseOptions,
    layout: {autoPadding: false, padding: {left: 114, right: 12, top: 0, bottom: 0}},
    scales: {
      x: {type: "linear", display: false, min: 0, max: 306.63},
      y: {type: "linear", display: false, min: 4.321, max: 6.166}
    }
  }
});

// panel B
new Chart(addCanvas(0, 780, 1200, 650), {
  type: "scatter",
  data: {datasets: [
    {showLine: true, order: 3, clip: false, pointRadius: 0, borderColor: "#000", borderWidth: 2, borderDash: [10, 8], data: [{x: chr8Peak, y: 5.37}, {x: chr8Peak, y: -3.63}]},
    {type: "bar", order: 2, grouped: false, clip: false, barThickness: 6.5, borderRadius: 3, borderSkipped: false, backgroundColor: "#000",
      data: chr8Runs.map(r => ({x: r[0], y: [r[1], r[2]]}))},
    {order: 1, clip: false, data: xy(chr8Dots), pointRadius: 3.4, backgroundColor: "#000", borderWidth: 0}
  ]},
  options: {...baseOptions,
    layout: {autoPadding: false, padding: {top: 21, right: 34.5, left: 0, bottom: 0}},
    scales: {
      x: {type: "linear", min: 0, max: 23.07, ...axisLines(19, 2.5), ticks: {font: {size: 29}, padding: 13, maxRotation: 0, callback: v => String(v)},
        afterBuildTicks: fixedTicks(chr8Ticks), afterFit: s => { s.height = 252; }},
      y: {type: "linear", min: 0, max: 6, ...axisLines(19, 2.5), ticks: {font: {size: 29}, padding: 9, callback: v => String(v)},
        afterBuildTicks: fixedTicks([0,2,4,6]), afterFit: s => { s.width = 125; }}
    }
  }
});

// panel C
new Chart(addCanvas(0, 1380, 1300, 320), {
  type: "scatter",
  data: {datasets: [
    {showLine: true, order: 1, clip: false, pointRadius: 0, borderColor: "#000", borderWidth: 2.5, data: [{x: 0, y: 0}, {x: 5000, y: 0}]},
    {showLine: true, order: 1, clip: false, pointRadius: 0, borderColor: "#000", borderWidth: 2, borderDash: [8, 5],
      data: [{x: 0, y: 32}, {x: 3615, y: 220.7}, {x: 5091, y: 42}]},
    {showLine: true, order: 1, clip: false, pointRadius: 0, borderColor: "#333", borderWidth: 1, borderDash: [6, 4],
      data: [{x: 3615, y: 220.7}, {x: 1768, y: 59.4}]},
    {type: "bar", order: 2, grouped: false, barThickness: 41, borderRadius: 9, borderSkipped: false, backgroundColor: GREY_EXON,
      data: exonStarts.map((s, i) => ({x: [s, exonEnds[i]], y: 0})).concat([{x: [4609, 4746], y: 182}])}
  ]},
  options: {...baseOptions,
    indexAxis: "y",
    layout: {autoPadding: false, padding: {left: 150, right: 166, top: 0, bottom: 0}},
    scales: {
      x: {type: "linear", display: false, offset: false, min: 0, max: 5000},
      y: {type: "linear", display: false, offset: false, min: -73, max: 247}
    }
  },
  plugins: [pinnedText(geneTicks.map((t, i) => ({x: t + (i ? 115 : 35), y: i === 2 ? -11 : -14, text: String(t), font: "32px " + SANS})))]
});

// panels D-G share one layout
function boxPanel(box, left, top, pBar, labelPad) {
  const line = (pts, w, order) => ({showLine: true, order, clip: false, pointRadius: 0, borderColor: "#000", borderWidth: w, data: pts});
  const sets = [];
  [box.gg, box.aa].forEach((b, i) => {
    const c = i + 1;
    sets.push(line([{x: c, y: b[3]}, {x: c, y: b[4]}, {x: c, y: null}, {x: c, y: b[0]}, {x: c, y: b[1]}], 2, 3));
    sets.push(line([{x: c - .16, y: b[4]}, {x: c + .16, y: b[4]}], 2, 3));
    if (b[0] > 0) sets.push(line([{x: c - .16, y: b[0]}, {x: c + .16, y: b[0]}], 2, 3));
    sets.push({type: "bar", order: 2, grouped: false, barThickness: 84, borderWidth: 2.5, borderColor: "#000", borderSkipped: false, backgroundColor: "#f3f3f9",
      data: [{x: c, y: [b[1], b[3]]}]});
    sets.push(line([{x: c - .325, y: b[2]}, {x: c + .325, y: b[2]}], 2, 1));
  });
  sets.push(line([{x: .99, y: pBar}, {x: 1.875, y: pBar}], 2, 1));
  new Chart(addCanvas(left - 100, top - 15, 422, 547), {
    type: "scatter",
    data: {datasets: sets},
    options: {...baseOptions,
      layout: {autoPadding: false, padding: {top: 15, right: 20, left: 0, bottom: 0}},
      scales: {
        x: {type: "linear", min: .334, max: 2.673, ...axisLines(16, 2), ticks: {font: {size: 36}, padding: labelPad, maxRotation: 0, callback: v => genotypes[v - 1]},
          afterBuildTicks: fixedTicks([1, 2]), afterFit: s => { s.height = 79.5; }},
        y: {type: "linear", min: 0, max: 100, ...axisLines(16, 2), ticks: {font: {size: 29}, padding: 1, callback: v => String(v)},
          afterBuildTicks: fixedTicks([0,20,40,60,80,100]), afterFit: s => { s.width = 100; }}
      }
    },
    plugins: [frameBox]
  });
}
boxPanel(boxD, 210.5, 1946.9, 83, 6);
boxPanel(boxE, 810.7, 1930.6, 83.5, 1);
boxPanel(boxF, 204.9, 2551.6, 86.3, 0);
boxPanel(boxG, 838.6, 2570.2, 84, 0);

// panel H
new Chart(addCanvas(1280, 900, 1073, 2177), {
  type: "scatter",
  data: {datasets: [
    {showLine: true, pointRadius: 0, borderColor: "#000", borderWidth: 2,
      data: treeBranches.flatMap(b => [{x: b[0], y: b[1]}, {x: b[2], y: b[3]}, {x: b[2], y: null}])},
    {data: tipDotX.map((x, i) => ({x, y: tipDotY[i]})), pointRadius: 22.5, backgroundColor: tipColors, borderWidth: 0}
  ]},
  options: {...baseOptions,
    layout: {autoPadding: false, padding: 0},
    scales: {
      x: {type: "linear", display: false, min: -.34, max: 10.722},
      y: {type: "linear", display: false, reverse: true, min: -.234, max: 8.253}
    }
  },
  plugins: [pinnedText([
    ...tipNames.map((t, i) => ({x: tipLabelX[i], y: tipLabelY[i], text: t, align: "left", font: "40.5px " + SANS})),
    ...supportText.map((t, i) => ({x: supportX[i], y: supportY[i], text: t, squeeze: .8, font: (t === "92%" ? "42px " : "46px ") + SANS}))
  ])]
});

// free text
const SERIF = '"Liberation Serif", serif';
[["A",25,43],["B",24,810],["C",26,1489],["D",26,1918],["E",647,1920],["F",24,2531],["G",650,2548],["H",1359,966]].forEach(p => note(p[0], p[1], p[2], 54));
note("Chromosome", 1192, 762, 43);
note("−log<sub>10</sub>(p)", 33, 376, 46, {rotate: true});
note("Lus10022333", 1250, 16, 35, {font: SERIF, italic: true});
note("Lus10023610", 1733, 94, 35, {font: SERIF, italic: true});
note("- log 10(<i>p</i>)", 44, 992, 33, {rotate: true});
note("Chr8", 36, 1207, 29);
note("(Mb)", 37, 1249, 29);
note("CDS", 1133, 1446, 32, {font: SERIF});
note("Lead SNP: 16311632", 480, 1577, 33, {font: SERIF});
note("5'", 154, 1609, 32);
note("3'", 1146, 1601, 32);
note("Lus10022333", 700, 1749, 56, {italic: true});
note("Relative survival rate-1 ( % )", 115.6, 2153, 36, {rotate: true});
note("Relative survival rate-2 (%)", 721.5, 2141, 36, {rotate: true});
note("Relative survival rate-3  ( %)", 107.6, 2768, 36, {rotate: true});
note("Relative survival rate-4 ( %)", 745, 2791, 36, {rotate: true});
note("<i>p</i> &lt; 0.0001", 356, 1997, 28);
note("<i>p</i> = 0.0008", 956.6, 1980, 28);
note("<i>p</i> = 0.0019", 351, 2585.7, 28);
note("p &lt; 0.0001", 972.6, 2614.4, 28);
note("GG=145", 1236, 2925, 33);
note("AA=30", 1224, 2966, 33);
</script>
</body>
</html>
